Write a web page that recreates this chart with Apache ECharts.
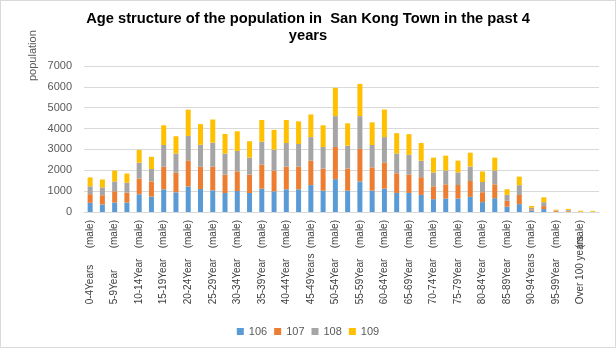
<!DOCTYPE html>
<html>
<head>
<meta charset="utf-8">
<script src="https://cdn.jsdelivr.net/npm/echarts@6/dist/echarts.min.js"></script>
<style>
  html, body { margin: 0; padding: 0; background: #fff; }
  #chart { width: 614px; height: 346px; border: 1px solid #d9d9d9; }
</style>
</head>
<body>
<div id="chart"></div>
<script>
// Age groups, each split into a male and a female column
const ageGroups = ['0-4Years', '5-9Year', '10-14Year', '15-19Year', '20-24Year', '25-29Year',
  '30-34Year', '35-39Year', '40-44Year', '45-49Years', '50-54Year', '55-59Year', '60-64Year',
  '65-69Year', '70-74Year', '75-79Year', '80-84Year', '85-89Year', '90-94Years', '95-99Year',
  'Over 100 years'];
const sexes = ['(male)', '(female)'];

// Population per year (series named by year)
const seriesNames = ['106', '107', '108', '109'];
const pop106 = [440, 362, 457, 457, 850, 740, 1087, 943, 1226, 1101, 1038, 912, 1006, 912,
  1118, 992, 1087, 1087, 1291, 1024, 1575, 1024, 1465, 1024, 1118, 913, 913, 819,
  616, 648, 648, 727, 474, 664, 253, 377, 70, 141, 10, 15, 5, 5];
const pop107 = [415, 441, 535, 472, 756, 725, 1086, 944, 1227, 1069, 1132, 880, 944, 880,
  1150, 992, 1086, 1086, 1166, 1055, 1543, 1055, 1559, 1118, 1244, 945, 882, 850,
  616, 679, 647, 758, 474, 663, 284, 440, 60, 140, 60, 45, 5, 5];
const pop108 = [378, 378, 473, 473, 756, 598, 1040, 912, 1195, 1053, 1148, 1007, 975, 818,
  1102, 1008, 1134, 1087, 1134, 1039, 1480, 1102, 1574, 1071, 1229, 945, 945, 788,
  664, 664, 601, 695, 490, 664, 284, 470, 70, 188, 15, 40, 5, 5];
const pop109 = [425, 378, 519, 441, 614, 583, 944, 833, 1258, 991, 1116, 943, 943, 786,
  1039, 945, 1102, 1086, 1086, 1039, 1355, 1071, 1544, 1086, 1322, 977, 992, 850,
  711, 710, 568, 664, 505, 616, 269, 410, 90, 234, 25, 50, 45, 40];

const yMin = 0, yMax = 7000, yStep = 1000;
const colors = ['#5b9bd5', '#ed7d31', '#a5a5a5', '#ffc000'];

const categories = [];
ageGroups.forEach(a => sexes.forEach(s => categories.push(a + ' ' + s)));
const values = [pop106, pop107, pop108, pop109];

const sans = '"Liberation Sans", Arial, sans-serif';
const narrow = '"Liberation Sans Narrow", "Arial Narrow", "Liberation Sans", Arial, sans-serif';
const chart = echarts.init(document.getElementById('chart'));
chart.setOption({
  animation: false,
  color: colors,
  title: {
    text: 'Age structure of the population in  San Kong Town in the past 4\nyears',
    left: 'center',
    top: 4,
    textStyle: {
      fontSize: 14.7, fontWeight: 'bold', color: '#000',
      fontFamily: sans, lineHeight: 17
    }
  },
  graphic: [{
    type: 'text',
    x: 32, y: 80,
    rotation: Math.PI / 2,
    style: {
      text: 'population', fill: '#595959', fontSize: 11,
      fontFamily: sans,
      textAlign: 'left', textVerticalAlign: 'middle'
    }
  }],
  legend: {
    data: seriesNames,
    left: 'center',
    top: 320,
    itemWidth: 7, itemHeight: 7, itemGap: 7,
    icon: 'rect',
    textStyle: { color: '#595959', fontSize: 11, fontFamily: sans }
  },
  grid: { left: 83, right: 16, top: 65, bottom: 135, containLabel: false },
  xAxis: {
    type: 'category',
    data: categories,
    axisLine: { lineStyle: { color: '#d9d9d9' } },
    axisTick: { show: false },
    axisLabel: {
      interval: 1,
      rotate: 90,
      margin: 8,
      color: '#404040',
      formatter: v => {
        const i = v.lastIndexOf(' ');
        return '{a|' + v.slice(0, i) + '}{b|' + v.slice(i + 1) + '}';
      },
      rich: {
        a: { width: 56, align: 'left', fontSize: 10, fontFamily: narrow, color: '#404040' },
        b: { fontSize: 10, fontFamily: narrow, color: '#404040' }
      }
    }
  },
  yAxis: {
    type: 'value',
    min: yMin, max: yMax, interval: yStep,
    axisLine: { show: false },
    axisTick: { show: false },
    axisLabel: {
      color: '#595959', fontSize: 11, margin: 12, fontFamily: sans,
      formatter: v => String(v)
    },
    splitLine: { lineStyle: { color: '#d9d9d9', width: 1 } }
  },
  series: seriesNames.map((n, k) => ({
    name: n,
    type: 'bar',
    stack: 'total',
    barWidth: 5,
    data: values[k]
  }))
});
</script>
</body>
</html>
